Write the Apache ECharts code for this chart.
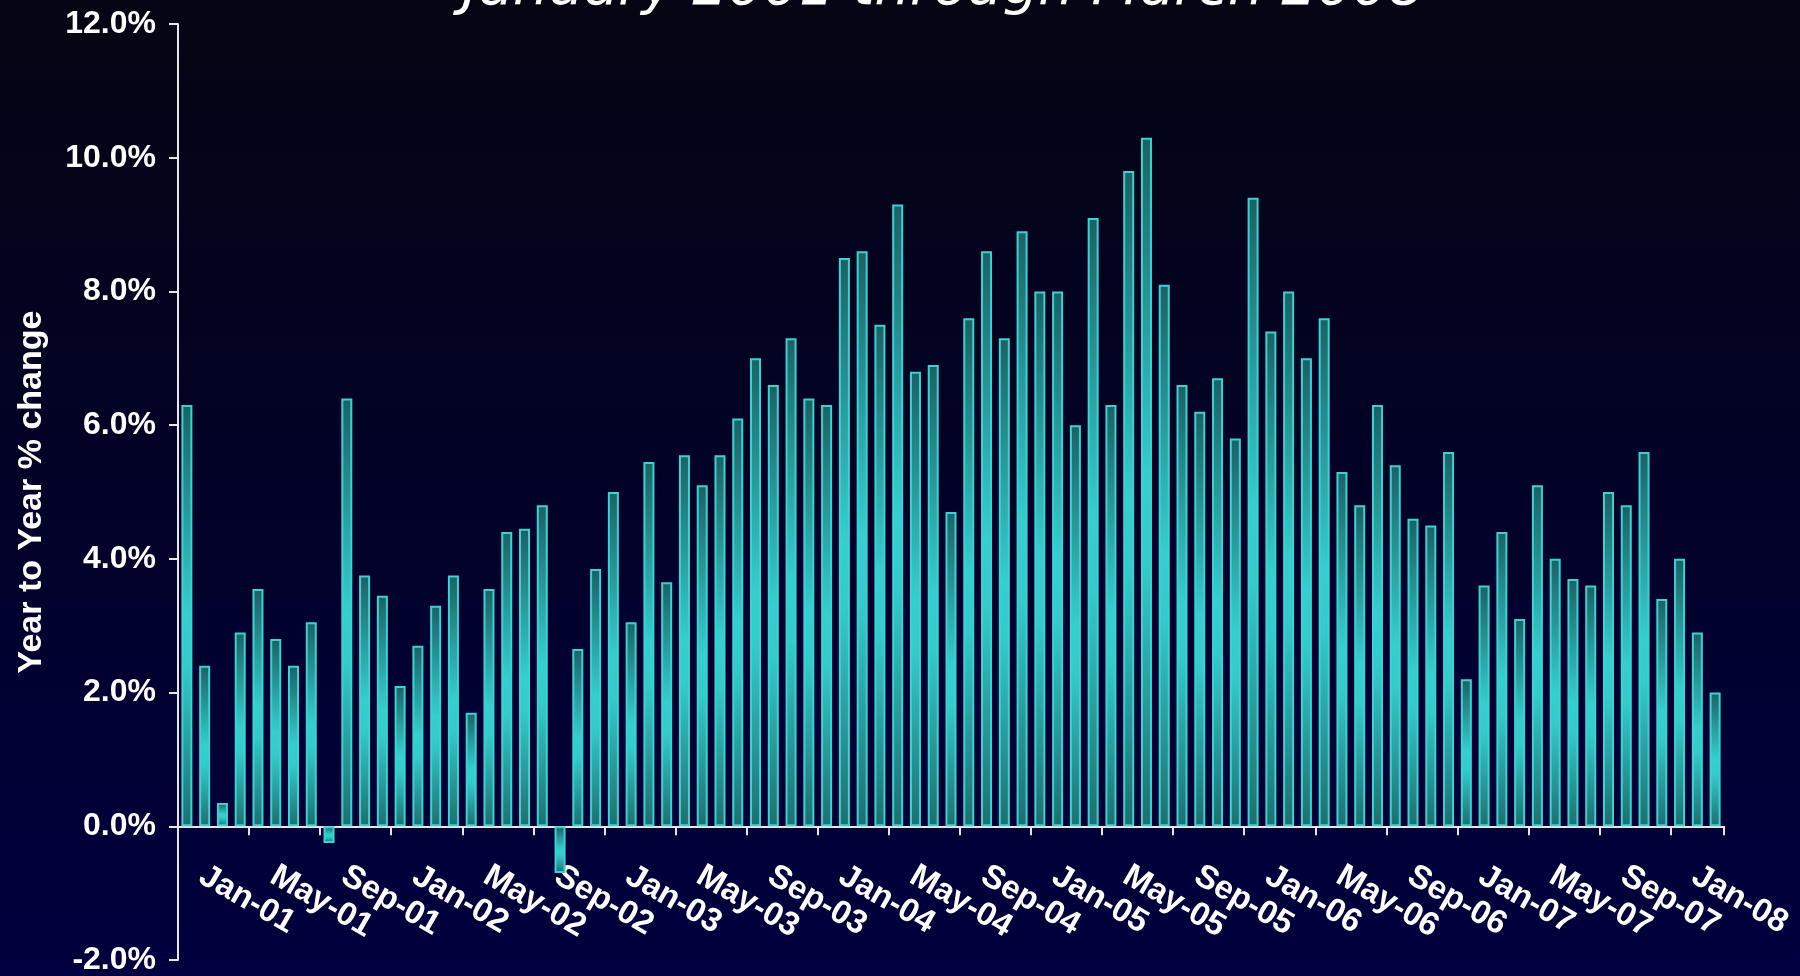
<!DOCTYPE html>
<html>
<head>
<meta charset="utf-8">
<title>Year to Year % change</title>
<script src="https://cdn.jsdelivr.net/npm/echarts@6/dist/echarts.min.js"></script>
<style>
  html, body { margin: 0; padding: 0; }
  #main { width: 1800px; height: 976px; }
</style>
</head>
<body>
<div id="main"></div>
<script>
  var titleText = 'January 2001 through March 2008';
  var yAxisName = 'Year to Year % change';

  var categories = [
    'Jan-01', 'Feb-01', 'Mar-01', 'Apr-01', 'May-01', 'Jun-01', 'Jul-01', 'Aug-01', 'Sep-01', 'Oct-01', 'Nov-01', 'Dec-01',
    'Jan-02', 'Feb-02', 'Mar-02', 'Apr-02', 'May-02', 'Jun-02', 'Jul-02', 'Aug-02', 'Sep-02', 'Oct-02', 'Nov-02', 'Dec-02',
    'Jan-03', 'Feb-03', 'Mar-03', 'Apr-03', 'May-03', 'Jun-03', 'Jul-03', 'Aug-03', 'Sep-03', 'Oct-03', 'Nov-03', 'Dec-03',
    'Jan-04', 'Feb-04', 'Mar-04', 'Apr-04', 'May-04', 'Jun-04', 'Jul-04', 'Aug-04', 'Sep-04', 'Oct-04', 'Nov-04', 'Dec-04',
    'Jan-05', 'Feb-05', 'Mar-05', 'Apr-05', 'May-05', 'Jun-05', 'Jul-05', 'Aug-05', 'Sep-05', 'Oct-05', 'Nov-05', 'Dec-05',
    'Jan-06', 'Feb-06', 'Mar-06', 'Apr-06', 'May-06', 'Jun-06', 'Jul-06', 'Aug-06', 'Sep-06', 'Oct-06', 'Nov-06', 'Dec-06',
    'Jan-07', 'Feb-07', 'Mar-07', 'Apr-07', 'May-07', 'Jun-07', 'Jul-07', 'Aug-07', 'Sep-07', 'Oct-07', 'Nov-07', 'Dec-07',
    'Jan-08', 'Feb-08', 'Mar-08'
  ];

  // year to year % change, one value per month
  var changePct = [
    6.3, 2.4, 0.35, 2.9, 3.55, 2.8, 2.4, 3.05, -0.25, 6.4, 3.75, 3.45,
    2.1, 2.7, 3.3, 3.75, 1.7, 3.55, 4.4, 4.45, 4.8, -0.7, 2.65, 3.85,
    5.0, 3.05, 5.45, 3.65, 5.55, 5.1, 5.55, 6.1, 7.0, 6.6, 7.3, 6.4,
    6.3, 8.5, 8.6, 7.5, 9.3, 6.8, 6.9, 4.7, 7.6, 8.6, 7.3, 8.9,
    8.0, 8.0, 6.0, 9.1, 6.3, 9.8, 10.3, 8.1, 6.6, 6.2, 6.7, 5.8,
    9.4, 7.4, 8.0, 7.0, 7.6, 5.3, 4.8, 6.3, 5.4, 4.6, 4.5, 5.6,
    2.2, 3.6, 4.4, 3.1, 5.1, 4.0, 3.7, 3.6, 5.0, 4.8, 5.6, 3.4,
    4.0, 2.9, 2.0
  ];

  var yTicks = [-2, 0, 2, 4, 6, 8, 10, 12];

  var font = '"Liberation Sans", Arial, sans-serif';
  var chart = echarts.init(document.getElementById('main'));

  chart.setOption({
    backgroundColor: new echarts.graphic.LinearGradient(0, 0, 0, 1, [
      {offset: 0, color: '#050513'},
      {offset: 0.5, color: '#020228'},
      {offset: 1, color: '#00003f'}
    ]),
    title: {
      text: titleText,
      left: 938,
      top: -44,
      textAlign: 'center',
      textStyle: {
        color: '#ffffff',
        fontSize: 56,
        fontStyle: 'italic',
        fontWeight: 'normal',
        fontFamily: '"DejaVu Sans", sans-serif'
      }
    },
    grid: {
      left: 178,
      right: 76,
      top: 24,
      bottom: 16,
      containLabel: false,
      outerBoundsMode: 'none'
    },
    xAxis: {
      type: 'category',
      data: categories,
      axisLine: {onZero: true, lineStyle: {color: '#e6e6e6', width: 2}},
      axisTick: {show: true, interval: 3, length: 9, lineStyle: {color: '#e6e6e6', width: 2}},
      axisLabel: {
        interval: 3,
        rotate: -30,
        // labels sit at the grid bottom, pull them up under the zero line
        margin: -95,
        padding: [0, 0, 0, 17],
        color: '#ffffff',
        fontSize: 33,
        fontWeight: 'bold',
        fontFamily: font
      },
      splitLine: {show: false}
    },
    yAxis: {
      type: 'value',
      min: yTicks[0],
      max: yTicks[yTicks.length - 1],
      interval: 2,
      name: yAxisName,
      nameLocation: 'middle',
      nameGap: 129,
      nameTextStyle: {
        color: '#ffffff',
        fontSize: 34,
        fontWeight: 'bold',
        fontFamily: font
      },
      axisLine: {show: true, lineStyle: {color: '#e6e6e6', width: 2}},
      axisTick: {show: true, length: 9, lineStyle: {color: '#e6e6e6', width: 2}},
      axisLabel: {
        margin: 22,
        color: '#ffffff',
        fontSize: 32,
        fontWeight: 'bold',
        fontFamily: font,
        formatter: function (v) { return v.toFixed(1) + '%'; }
      },
      splitLine: {show: false}
    },
    series: [{
      name: yAxisName,
      type: 'bar',
      data: changePct,
      barWidth: 11,
      itemStyle: {
        color: new echarts.graphic.LinearGradient(0, 0, 0, 1, [
          {offset: 0, color: '#1c6164'},
          {offset: 0.5, color: '#35cfcf'},
          {offset: 0.62, color: '#33caca'},
          {offset: 1, color: '#1f6e6e'}
        ]),
        borderColor: '#3ad2d2',
        borderWidth: 2
      }
    }]
  });
</script>
</body>
</html>
